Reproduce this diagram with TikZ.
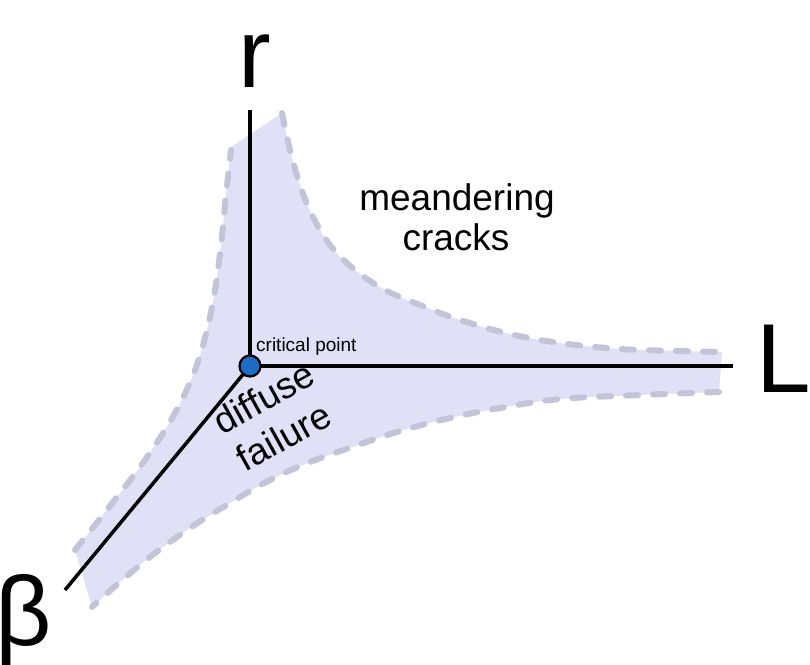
\documentclass[tikz,border=0pt]{standalone}
\usepackage{fontspec}
\setmainfont{Liberation Sans}
\definecolor{regionfill}{RGB}{224,224,247}
\definecolor{regionedge}{RGB}{196,196,216}
\definecolor{dotblue}{RGB}{28,108,200}
\tikzset{
  edgedash/.style={draw=regionedge, line width=6pt, line cap=round, dash pattern=on 12pt off 15pt},
  axisline/.style={draw=black, line width=3.5pt},
  bigaxis/.style={inner sep=0pt, font=\fontsize{98}{100}\selectfont},
  regionlabel/.style={inner sep=0pt, font=\fontsize{37}{40}\selectfont},
  smalllabel/.style={inner sep=0pt, font=\fontsize{19}{21}\selectfont},
  critdot/.style={circle, fill=dotblue, draw=black, line width=2.2pt, minimum size=21pt, inner sep=0pt}
}
\begin{document}
\begin{tikzpicture}[x=1pt,y=-1pt]
\useasboundingbox (0,0) rectangle (810,664);
% shaded region
\fill[regionfill]
  (231,147) -- (282,113)
  -- plot[smooth, tension=0.6] coordinates {(282,113) (290,150) (300,185) (312,215) (330,245) (355,270) (385,290) (420,305) (460,320) (510,334) (560,343) (620,349) (680,351) (722,352)}
  -- (719,392)
  -- plot[smooth, tension=0.6] coordinates {(719,392) (640,395) (560,399) (500,408) (450,418) (400,431) (355,446) (310,462) (270,480) (230,503) (190,528) (150,557) (120,582) (92,607)}
  -- (75,550)
  -- plot[smooth, tension=0.6] coordinates {(75,550) (110,506) (145,460) (175,413) (195,370) (207,330) (215,290) (221,245) (226,195) (231,147)}
  -- cycle;
% dashed borders
\draw[edgedash] plot[smooth, tension=0.6] coordinates {(282,113) (290,150) (300,185) (312,215) (330,245) (355,270) (385,290) (420,305) (460,320) (510,334) (560,343) (620,349) (680,351) (722,352)};
\draw[edgedash] plot[smooth, tension=0.6] coordinates {(719,392) (640,395) (560,399) (500,408) (450,418) (400,431) (355,446) (310,462) (270,480) (230,503) (190,528) (150,557) (120,582) (92,607)};
\draw[edgedash] plot[smooth, tension=0.6] coordinates {(75,550) (110,506) (145,460) (175,413) (195,370) (207,330) (215,290) (221,245) (226,195) (231,150)};
% axes
\coordinate (O) at (250,366);
\coordinate (rtop) at (250,110);
\coordinate (lend) at (733,366);
\coordinate (bend) at (65,590);
\draw[axisline] (O) -- (rtop);
\draw[axisline] (O) -- (lend);
\draw[axisline] (O) -- (bend);
\node[critdot] (cp) at (O) {};
% axis labels
\node[bigaxis, anchor=base] (rlab) at (255,87) {r};
\node[bigaxis, anchor=base west] (llab) at (756,392) {L};
\node[bigaxis, anchor=base west] (blab) at (-5,645) {β};
% region labels
\node[smalllabel, anchor=base west] (cplab) at (256,351) {critical point};
\node[regionlabel, anchor=base] (mean1) at (457,210) {meandering};
\node[regionlabel, anchor=base] (mean2) at (456,250) {cracks};
\node[regionlabel, anchor=base, rotate=29] (diff1) at (270,409) {diffuse};
\node[regionlabel, anchor=base, rotate=29] (diff2) at (290,448) {failure};
\end{tikzpicture}
\end{document}
